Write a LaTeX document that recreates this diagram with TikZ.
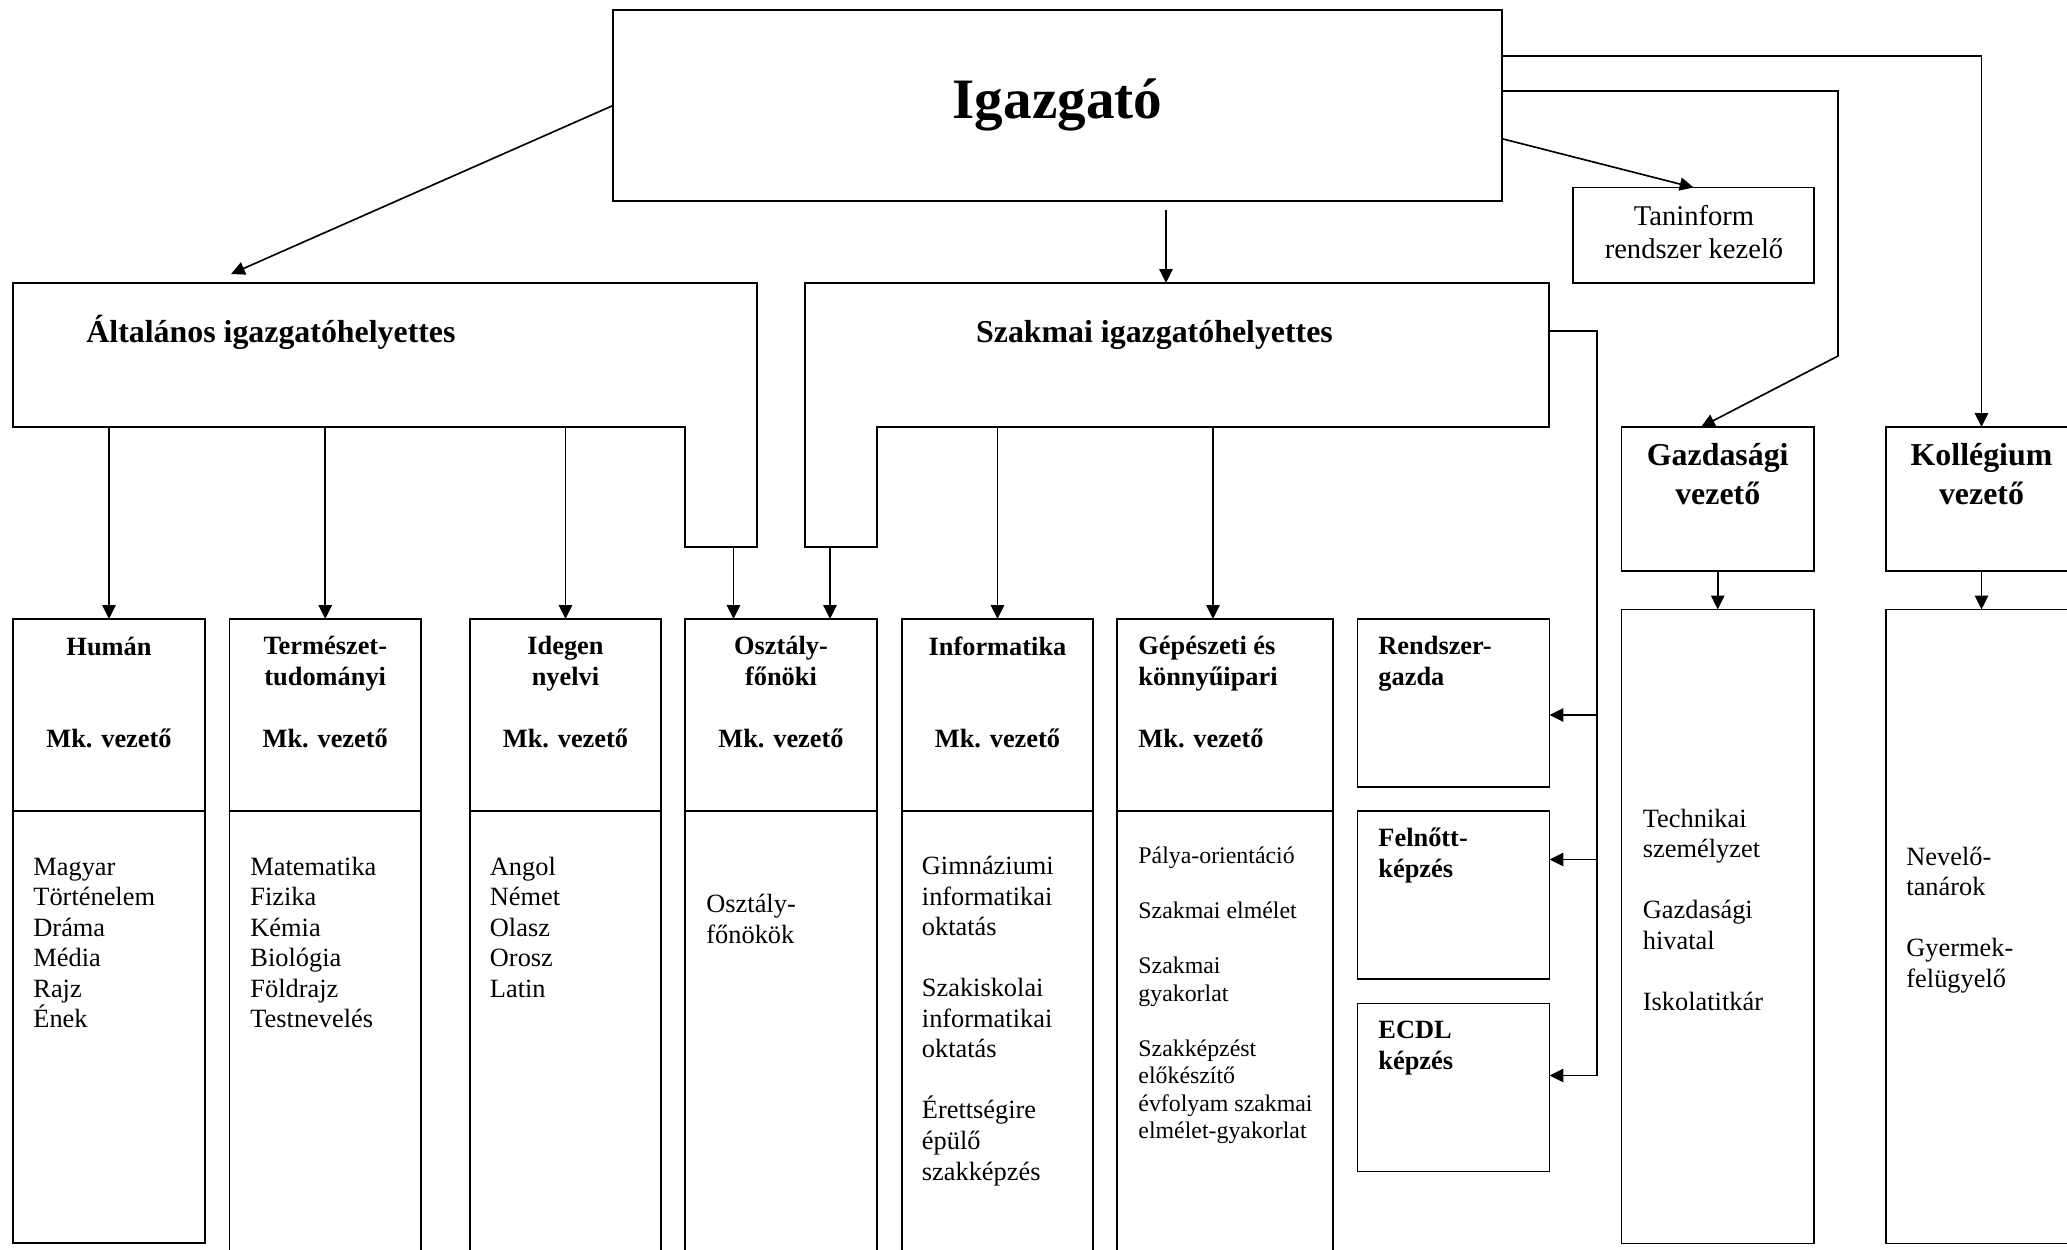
\documentclass[tikz,border=0pt]{standalone}
\usepackage{fontspec}
\setmainfont{Liberation Serif}
\usetikzlibrary{arrows.meta,calc}
\tikzset{
  box/.style={draw, line width=0.8pt, inner sep=0pt, outer sep=0pt, anchor=north west},
  sz/.style 2 args={minimum width=#1*0.455pt, minimum height=#2*0.455pt},
  ln/.style={line width=0.8pt},
  conn/.style={line width=0.75pt},
  arr/.style={conn, -{Triangle[length=6.3pt,width=6pt]}},
  hd/.style={inner sep=0pt, font=\fontsize{12}{13.9}\selectfont\bfseries, align=center, anchor=base},
  hdl/.style={hd, align=left, anchor=base west},
  bd/.style={inner sep=0pt, font=\fontsize{12}{13.9}\selectfont, align=left, anchor=base west},
  bds/.style={bd, font=\fontsize{10.85}{12.5}\selectfont},
}
\begin{document}
\begin{tikzpicture}[x=0.455pt, y=-0.455pt]
\useasboundingbox (0,0) rectangle (2067,1250);
\clip (0,0) rectangle (2067,1250);
% (multi-line text nodes are anchored at the baseline of their last line)

% top
\node[box, sz={889}{191}] (igaz) at (613,10) {};
\node[inner sep=0pt, anchor=base, font=\fontsize{26}{30}\selectfont\bfseries] (igazT) at (1057.5,118) {Igazgató};

\node[box, sz={241}{95.5}] (taninf) at (1573,187.5) {};
\node[inner sep=0pt, anchor=base, align=center, font=\fontsize{13}{15}\selectfont] (taninfT) at (1694,258) {Taninform\\rendszer kezelő};

% deputies (L-shaped boxes)
\draw[ln] (13,283) coordinate (altNW) -- (757,283) -- (757,547) -- (685,547) -- (685,427) -- (13,427) -- cycle;
\node[inner sep=0pt, anchor=base west, font=\fontsize{14.5}{17}\selectfont\bfseries] (altT) at (86,342) {Általános igazgatóhelyettes};
\draw[ln] (805,283) coordinate (szNW) -- (1549,283) -- (1549,427) -- (877,427) -- (877,547) -- (805,547) -- cycle;
\node[inner sep=0pt, anchor=base, font=\fontsize{14.5}{17}\selectfont\bfseries] (szT) at (1154.5,342) {Szakmai igazgatóhelyettes};

% economic / dormitory
\node[box, sz={192.5}{144}] (gazdv) at (1621.5,427) {};
\node[inner sep=0pt, anchor=base, align=center, font=\fontsize{14.5}{17.3}\selectfont\bfseries] (gazdvT) at (1717.75,504) {Gazdasági\\vezető};
\node[box, sz={191}{144}] (kollv) at (1886,427) {};
\node[inner sep=0pt, anchor=base, align=center, font=\fontsize{14.5}{17.3}\selectfont\bfseries] (kollvT) at (1981.5,504) {Kollégium\\vezető};
\node[box, sz={192.5}{634}] (gazdl) at (1621.5,609.5) {};
\node[box, sz={191}{634}] (kolll) at (1886,609.5) {};
\node[bd] (gazdlT) at (1642.5,1010.3) {Technikai\\személyzet\\[\baselineskip]Gazdasági\\hivatal\\[\baselineskip]Iskolatitkár};
\node[bd] (kolllT) at (1906,987.2) {Nevelő-\\tanárok\\[\baselineskip]Gyermek-\\felügyelő};

% department boxes: headers
\node[box, sz={192}{192}] (humH) at (13,619) {};
\node[box, sz={191.5}{192}] (termH) at (229.5,619) {};
\node[box, sz={191}{192}] (idegH) at (470,619) {};
\node[box, sz={192}{192}] (osztH) at (685,619) {};
\node[box, sz={191}{192}] (infoH) at (902,619) {};
\node[box, sz={216}{192}] (gepH) at (1117,619) {};
% bodies
\node[box, sz={192}{432}] (humB) at (13,811) {};
\node[box, sz={191.5}{470}] (termB) at (229.5,811) {};
\node[box, sz={191}{470}] (idegB) at (470,811) {};
\node[box, sz={192}{470}] (osztB) at (685,811) {};
\node[box, sz={191}{470}] (infoB) at (902,811) {};
\node[box, sz={216}{470}] (gepB) at (1117,811) {};
% small boxes
\node[box, sz={192}{168}] (rend) at (1357.5,619) {};
\node[box, sz={192}{168}] (feln) at (1357.5,811) {};
\node[box, sz={192}{168}] (ecdl) at (1357.5,1003.5) {};

% header texts
\node[hd] (humT) at (109,655) {Humán};
\node[hd] (humM) at (109,747) {Mk. vezető};
\node[hd] (termT) at (325.25,685.5) {Természet-\\tudományi};
\node[hd] (termM) at (325.25,747) {Mk. vezető};
\node[hd] (idegT) at (565.5,685.5) {Idegen\\nyelvi};
\node[hd] (idegM) at (565.5,747) {Mk. vezető};
\node[hd] (osztT) at (781,685.5) {Osztály-\\főnöki};
\node[hd] (osztM) at (781,747) {Mk. vezető};
\node[hd] (infoT) at (997.5,655) {Informatika};
\node[hd] (infoM) at (997.5,747) {Mk. vezető};
\node[hdl] (gepT) at (1138,685.5) {Gépészeti és\\könnyűipari};
\node[hdl] (gepM) at (1138,747) {Mk. vezető};
\node[hdl] (rendT) at (1378,685.5) {Rendszer-\\gazda};
\node[hdl] (felnT) at (1378,877.5) {Felnőtt-\\képzés};
\node[hdl] (ecdlT) at (1378,1069) {ECDL\\képzés};

% body texts
\node[bd] (humL) at (33,1027.75) {Magyar\\Történelem\\Dráma\\Média\\Rajz\\Ének};
\node[bd] (termL) at (250,1027.75) {Matematika\\Fizika\\Kémia\\Biológia\\Földrajz\\Testnevelés};
\node[bd] (idegL) at (489.5,997.2) {Angol\\Német\\Olasz\\Orosz\\Latin};
\node[bd] (osztL) at (706,943.5) {Osztály-\\főnökök};
\node[bd] (infoL) at (921.5,1180) {Gimnáziumi\\informatikai\\oktatás\\[\baselineskip]Szakiskolai\\informatikai\\oktatás\\[\baselineskip]Érettségire\\épülő\\szakképzés};
\node[bds] (gepL) at (1138,1138.7) {Pálya-orientáció\\[\baselineskip]Szakmai elmélet\\[\baselineskip]Szakmai\\gyakorlat\\[\baselineskip]Szakképzést\\előkészítő\\évfolyam szakmai\\elmélet-gyakorlat};

% connectors from the director
\coordinate (altTip) at (231,274);
\draw[arr] (igaz.west) -- (altTip);
\coordinate (igS) at (1166,210);
\coordinate (szTop) at (1166,283);
\draw[arr] (igS) -- (szTop);
\coordinate (igE3) at (1502,138.7);
\draw[arr] (igE3) -- (taninf.north);
\coordinate (igE2) at (1502,91);
\coordinate (gzBend) at (1838,356);
\draw[arr] (igE2) -| (gzBend) -- ($(gazdv.north)+(-16.75,0)$);
\coordinate (igE1) at (1502,56);
\draw[arr] (igE1) -| (kollv.north);
\draw[arr] (gazdv.south) -- (gazdl.north);
\draw[arr] (kollv.south) -- (kolll.north);

% from Általános
\coordinate (a1) at (109,427);
\coordinate (a2) at (325.25,427);
\coordinate (a3) at (565.5,427);
\coordinate (a4) at (733.5,547);
\draw[arr] (a1) -- (humH.north);
\draw[arr] (a2) -- (termH.north);
\draw[arr] (a3) -- (idegH.north);
\draw[arr] (a4) -- (a4 |- osztH.north);

% from Szakmai
\coordinate (s1) at (830,547);
\coordinate (s2) at (997.5,427);
\coordinate (s3) at (1213,427);
\draw[arr] (s1) -- (s1 |- osztH.north);
\draw[arr] (s2) -- (infoH.north);
\draw[arr] (s3) -- (s3 |- gepH.north);
\coordinate (sR) at (1549,331);
\coordinate (b1) at (1597,715);
\coordinate (b2) at (1597,859.5);
\coordinate (b3) at (1597,1075.5);
\draw[arr] (sR) -| (b3) -- (b3 -| ecdl.east);
\draw[arr] (b1) -- (b1 -| rend.east);
\draw[arr] (b2) -- (b2 -| feln.east);
\end{tikzpicture}
\end{document}
